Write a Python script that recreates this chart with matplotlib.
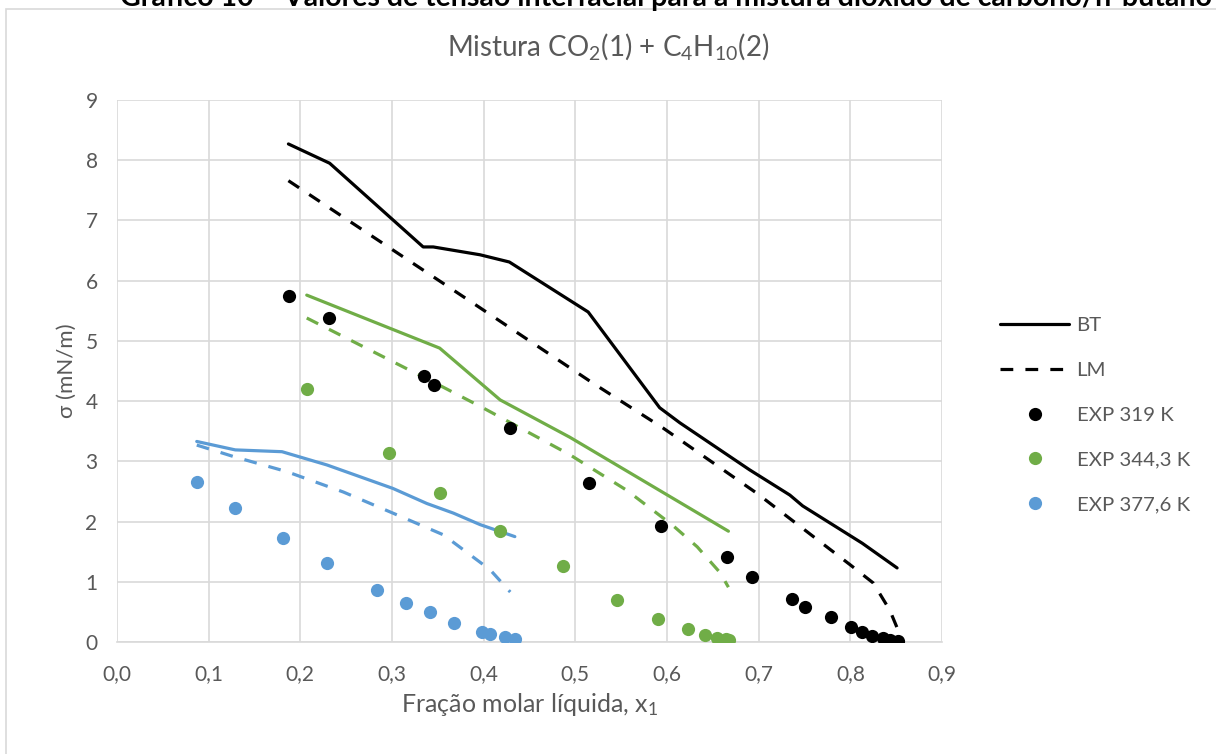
import matplotlib
matplotlib.use('Agg')
import matplotlib.pyplot as plt
from matplotlib.patches import Rectangle

plt.rcParams['font.family'] = ['Lato', 'DejaVu Sans']
plt.rcParams['mathtext.fontset'] = 'custom'
plt.rcParams['mathtext.rm'] = 'Lato'
plt.rcParams['mathtext.it'] = 'Lato:italic'

# === DATA ===
# 319 K - preto
bt_319_x = [0.187, 0.232, 0.334, 0.345, 0.396, 0.428, 0.514, 0.592, 0.614, 0.690, 0.734, 0.748, 0.813, 0.851]
bt_319_y = [8.27, 7.95, 6.56, 6.56, 6.43, 6.31, 5.48, 3.89, 3.64, 2.86, 2.44, 2.26, 1.64, 1.23]
lm_319_x = [0.187, 0.396, 0.519, 0.596, 0.698, 0.800, 0.825, 0.843, 0.852]
lm_319_y = [7.66, 5.55, 4.30, 3.55, 2.47, 1.28, 0.98, 0.53, 0.20]
exp_319_x = [0.188, 0.231, 0.335, 0.346, 0.429, 0.515, 0.593, 0.665, 0.693, 0.736, 0.751,
             0.779, 0.801, 0.813, 0.824, 0.836, 0.843, 0.852]
exp_319_y = [5.75, 5.38, 4.42, 4.27, 3.55, 2.64, 1.93, 1.41, 1.08, 0.71, 0.58,
             0.41, 0.25, 0.17, 0.10, 0.06, 0.03, 0.01]

# 344,3 K - verde
bt_344_x = [0.207, 0.352, 0.418, 0.494, 0.667]
bt_344_y = [5.76, 4.88, 4.02, 3.40, 1.84]
lm_344_x = [0.207, 0.356, 0.399, 0.494, 0.556, 0.606, 0.633, 0.658, 0.667]
lm_344_y = [5.38, 4.23, 3.89, 3.11, 2.52, 1.94, 1.58, 1.15, 0.91]
exp_344_x = [0.207, 0.297, 0.352, 0.418, 0.487, 0.545, 0.590, 0.623, 0.641, 0.654, 0.664, 0.668]
exp_344_y = [4.20, 3.14, 2.47, 1.84, 1.27, 0.70, 0.38, 0.21, 0.12, 0.07, 0.05, 0.03]

# 377,6 K - azul
bt_377_x = [0.087, 0.129, 0.180, 0.229, 0.301, 0.338, 0.367, 0.396, 0.434]
bt_377_y = [3.33, 3.19, 3.16, 2.94, 2.55, 2.30, 2.14, 1.95, 1.75]
lm_377_x = [0.087, 0.127, 0.185, 0.247, 0.301, 0.356, 0.407, 0.429]
lm_377_y = [3.27, 3.08, 2.83, 2.49, 2.14, 1.78, 1.20, 0.83]
exp_377_x = [0.087, 0.129, 0.181, 0.229, 0.284, 0.315, 0.341, 0.368, 0.398, 0.407, 0.423, 0.434]
exp_377_y = [2.66, 2.23, 1.72, 1.32, 0.87, 0.64, 0.49, 0.31, 0.17, 0.14, 0.09, 0.05]

x_ticks = [0.0, 0.1, 0.2, 0.3, 0.4, 0.5, 0.6, 0.7, 0.8, 0.9]
x_tick_labels = ['0,0', '0,1', '0,2', '0,3', '0,4', '0,5', '0,6', '0,7', '0,8', '0,9']
y_ticks = list(range(0, 10))

PRETO = '#000000'
VERDE = '#70AD47'
AZUL = '#5B9BD5'
CINZA_TXT = '#595959'
CINZA_GRADE = '#D9D9D9'

LW = 2.3
DASH = (4.0, 3.8)

fig = plt.figure(figsize=(12.16, 7.54), dpi=100)
ax = fig.add_axes([117 / 1216, 1 - 642 / 754, (942 - 117) / 1216, (642 - 100) / 754])

# moldura do gráfico (Excel)
fig.patches.append(Rectangle((6 / 1216, -0.2), 1.2, 1.2 - 9 / 754, transform=fig.transFigure,
                             fill=False, edgecolor=CINZA_GRADE, linewidth=1.2))

# legenda de topo (cortada no original)
fig.text(120 / 1216, 1 - 6 / 754, 'Gráfico 10 – Valores de tensão interfacial para a mistura dióxido de carbono/n-butano',
         fontsize=20.5, fontweight='bold', ha='left', va='baseline', color='#000000')

# linhas teóricas
ax.plot(bt_319_x, bt_319_y, color=PRETO, lw=LW, solid_capstyle='round', label='BT', zorder=3)
ax.plot(lm_319_x, lm_319_y, color=PRETO, lw=LW, dashes=DASH, label='LM', zorder=3)
ax.plot(bt_344_x, bt_344_y, color=VERDE, lw=LW, solid_capstyle='round', zorder=3)
ax.plot(lm_344_x, lm_344_y, color=VERDE, lw=LW, dashes=DASH, zorder=3)
ax.plot(bt_377_x, bt_377_y, color=AZUL, lw=LW, solid_capstyle='round', zorder=3)
ax.plot(lm_377_x, lm_377_y, color=AZUL, lw=LW, dashes=DASH, zorder=3)

# pontos experimentais
ax.plot(exp_319_x, exp_319_y, 'o', color=PRETO, ms=9.5, mec='none', label='EXP 319 K', zorder=4)
ax.plot(exp_344_x, exp_344_y, 'o', color=VERDE, ms=9.5, mec='none', label='EXP 344,3 K', zorder=4)
ax.plot(exp_377_x, exp_377_y, 'o', color=AZUL, ms=9.5, mec='none', label='EXP 377,6 K', zorder=4)

ax.set_xlim(0, 0.9)
ax.set_ylim(0, 9)
ax.set_xticks(x_ticks)
ax.set_xticklabels(x_tick_labels)
ax.set_yticks(y_ticks)
ax.grid(True, color=CINZA_GRADE, lw=1.2)
ax.set_axisbelow(True)
for s in ax.spines.values():
    s.set_visible(False)
ax.spines['bottom'].set_visible(True)
ax.spines['bottom'].set_color(CINZA_GRADE)
ax.spines['bottom'].set_linewidth(1.2)
ax.tick_params(length=0, labelsize=15, colors=CINZA_TXT)
ax.tick_params(axis='x', pad=16)
ax.tick_params(axis='y', pad=14)

fig.text(0.5, 1 - 55 / 754, 'Mistura CO$_\\mathregular{2}$(1) + C$_\\mathregular{4}$H$_\\mathregular{10}$(2)',
         fontsize=20, color=CINZA_TXT, ha='center', va='baseline')
ax.set_xlabel('Fração molar líquida, x$_\\mathregular{1}$', fontsize=18, color=CINZA_TXT, labelpad=5)
ax.set_ylabel('σ (mN/m)', fontsize=16, color=CINZA_TXT, labelpad=6)

leg = fig.legend(loc='center left', bbox_to_anchor=(1000 / 1216, 1 - 415 / 754), frameon=False,
                 fontsize=14.7, handlelength=3.4, handletextpad=0.35, labelspacing=1.35,
                 borderpad=0, borderaxespad=0, numpoints=1)
for t in leg.get_texts():
    t.set_color(CINZA_TXT)

fig.savefig('out.png', dpi=100)
